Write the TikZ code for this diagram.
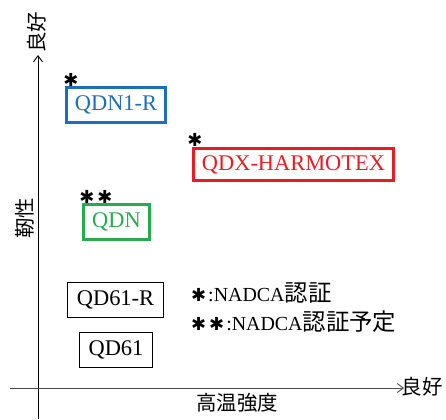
\documentclass[tikz,border=0pt]{standalone}
\usepackage{fontspec}
\setmainfont{Liberation Serif}
\newfontfamily\jp{Noto Sans CJK JP}
\newfontfamily\djvfont{DejaVu Sans}
\usetikzlibrary{arrows.meta}
\definecolor{qblue}{RGB}{30,110,185}
\definecolor{qred}{RGB}{230,30,35}
\definecolor{qgreen}{RGB}{40,170,80}
\newcommand{\astk}{{\djvfont\fontsize{18}{18}\selectfont ✱}}
\begin{document}
\begin{tikzpicture}[x=1bp,y=-1bp,
  prod/.style={draw, inner sep=0pt, font=\fontsize{22.5}{22.5}\selectfont},
  cprod/.style={prod, draw=#1, text=#1, line width=2.6bp},
  kprod/.style={prod, draw=black, text=black, line width=0.9bp},
  star/.style={inner sep=0pt},
  axlab/.style={inner sep=0pt, font=\jp\fontsize{20.5}{20.5}\selectfont},
  legend/.style={inner sep=0pt, anchor=west, font=\fontsize{20}{20}\selectfont},
  axis/.style={line width=0.9bp, -{Straight Barb[length=6bp,width=9bp]}}]
\useasboundingbox (0,0) rectangle (446,419);
% axes
\coordinate (vbot) at (38,419);
\coordinate (vtop) at (38,55);
\coordinate (hleft) at (10,388);
\coordinate (hright) at (404,388);
\draw[axis] (vbot) -- (vtop);
\draw[axis, draw=black!70] (hleft) -- (hright);
\node[axlab, rotate=90] (ylab) at (37,32) {良好};
\node[axlab, rotate=90] (ytitle) at (25,218) {靭性};
\node[axlab] (xlab) at (422,387) {良好};
\node[axlab] (xtitle) at (237,403) {高温強度};
% products
\node[cprod=qblue, minimum width=99.5bp, minimum height=35.5bp] (qdn1r) at (116,105) {QDN1-R};
\node[cprod=qred, minimum width=200bp, minimum height=32.5bp] (qdx) at (293.5,164.5) {QDX-HARMOTEX};
\node[cprod=qgreen, minimum width=66.5bp, minimum height=35.5bp] (qdn) at (116.5,222) {QDN};
\node[kprod, minimum width=96bp, minimum height=35bp] (qd61r) at (115.5,300) {QD61-R};
\node[kprod, minimum width=73bp, minimum height=35bp] (qd61) at (116,350) {QD61};
% asterisks
\node[star] (s1) at (71,80) {\astk};
\node[star] (s2) at (195,140) {\astk};
\node[star] (s3) at (96,197) {\astk\kern3bp\astk};
% legend
\node[legend] (leg1) at (191,293) {\astk\kern2bp:NADCA{\jp\fontsize{23.5}{23.5}\selectfont 認証}};
\node[legend] (leg2) at (191,322) {\astk\kern3bp\astk\kern2bp:NADCA{\jp\fontsize{23.5}{23.5}\selectfont 認証予定}};
\end{tikzpicture}
\end{document}
